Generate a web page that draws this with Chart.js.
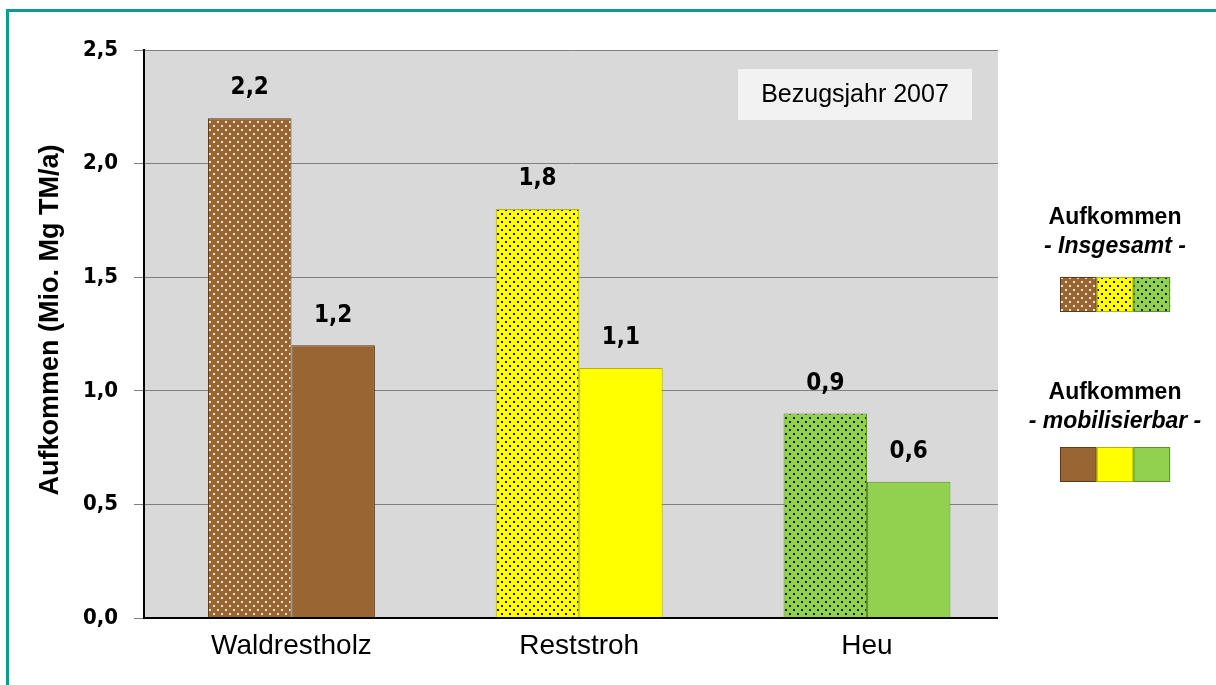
<!DOCTYPE html>
<html>
<head>
<meta charset="utf-8">
<script src="https://cdn.jsdelivr.net/npm/chart.js@4.4.0/dist/chart.umd.min.js"></script>
<style>
  html, body { margin: 0; padding: 0; background: #fff; }
  #wrap { width: 1216px; height: 685px; position: relative; }
</style>
</head>
<body>
<div id="wrap"><canvas id="myChart" width="1216" height="685"></canvas></div>
<script>
// data
const categories = ['Waldrestholz', 'Reststroh', 'Heu'];
const insgesamt = [2.2, 1.8, 0.9];
const mobilisierbar = [1.2, 1.1, 0.6];
const yTicks = [0, 0.5, 1.0, 1.5, 2.0, 2.5];
const yTitle = 'Aufkommen (Mio. Mg TM/a)';
const boxText = 'Bezugsjahr 2007';
const legendHead = 'Aufkommen';
const legendSub = ['- Insgesamt -', '- mobilisierbar -'];

// colours
const fills = ['#996633', '#ffff00', '#92d050'];
const borders = ['#5e3b17', '#b5b500', '#5e8f2c'];
const dotCols = ['#f3e3d0', '#1a1a00', '#1a2a0a'];

const numFont = '"DejaVu Sans Condensed", "DejaVu Sans", Verdana, sans-serif';
const txtFont = '"Liberation Sans", Arial, sans-serif';

function makePattern(bg, dot) {
    const c = document.createElement('canvas');
    c.width = 8; c.height = 8;
    const g = c.getContext('2d');
    g.fillStyle = bg;
    g.fillRect(0, 0, 8, 8);
    g.fillStyle = dot;
    g.fillRect(1, 1, 2, 2);
    g.fillRect(5, 5, 2, 2);
    return g.createPattern(c, 'repeat');
}
const patterns = fills.map((f, i) => makePattern(f, dotCols[i]));

const fmt = v => v.toFixed(1).replace('.', ',');

// grey plot area, frame, axis title, year box, legend
const decor = {
    id: 'decor',
    afterLayout(chart) {
        // the category slots run a bit past the grey area on the right, like the original
        const x = chart.scales.x;
        const w = x.right - x.left;
        x.left += w * 0.0042;
        x.right += w * 0.0151;
        x.configure();
    },
    beforeDraw(chart) {
        const {ctx, chartArea: a} = chart;
        ctx.save();
        ctx.fillStyle = '#d9d9d9';
        ctx.fillRect(a.left, a.top, a.right - a.left, a.bottom - a.top);
        ctx.restore();
    },
    afterDraw(chart) {
        const {ctx, chartArea: a} = chart;
        ctx.save();
        // bottom axis line
        ctx.strokeStyle = '#000';
        ctx.lineWidth = 2;
        ctx.beginPath();
        ctx.moveTo(a.left - 1, a.bottom);
        ctx.lineTo(a.right, a.bottom);
        ctx.stroke();

        // teal frame
        ctx.strokeStyle = '#0b9c97';
        ctx.lineWidth = 3;
        ctx.strokeRect(7.5, 10.5, 1240, 700);

        ctx.textAlign = 'center';
        ctx.textBaseline = 'middle';

        // y axis title
        ctx.save();
        ctx.translate(51, (a.top + a.bottom) / 2 - 14);
        ctx.rotate(-Math.PI / 2);
        ctx.fillStyle = '#000';
        ctx.font = 'bold 27px ' + txtFont;
        ctx.fillText(yTitle, 0, 0);
        ctx.restore();

        // year box
        ctx.fillStyle = '#f2f2f2';
        ctx.fillRect(738, 69, 234, 51);
        ctx.fillStyle = '#000';
        ctx.font = '25px ' + txtFont;
        ctx.fillText(boxText, 855, 95);

        // legend
        const groups = [
            {y: 218, sub: legendSub[0], sw: 277, ds: 0},
            {y: 393, sub: legendSub[1], sw: 447, ds: 1}
        ];
        groups.forEach(gr => {
            ctx.fillStyle = '#000';
            ctx.font = 'bold 23px ' + txtFont;
            ctx.fillText(legendHead, 1115, gr.y);
            ctx.font = 'italic bold 23px ' + txtFont;
            ctx.fillText(gr.sub, 1115, gr.y + 29);
            const dset = chart.data.datasets[gr.ds];
            for (let i = 0; i < 3; i++) {
                const x = 1060 + i * 36.7;
                ctx.fillStyle = dset.backgroundColor[i];
                ctx.fillRect(x, gr.sw, 36.7, 35);
                ctx.strokeStyle = dset.borderColor[i];
                ctx.lineWidth = 1;
                ctx.strokeRect(x + 0.5, gr.sw + 0.5, 35.7, 34);
            }
        });
        ctx.restore();
    },
    afterDatasetsDraw(chart) {
        const {ctx} = chart;
        ctx.save();
        ctx.fillStyle = '#000';
        ctx.font = 'bold 24px ' + numFont;
        ctx.textAlign = 'center';
        ctx.textBaseline = 'middle';
        chart.data.datasets.forEach((ds, di) => {
            chart.getDatasetMeta(di).data.forEach((bar, i) => {
                ctx.fillText(fmt(ds.data[i]), bar.x, bar.y - 30);
            });
        });
        ctx.restore();
    }
};

const ctx = document.getElementById('myChart');
const myChart = new Chart(ctx, {
    type: 'bar',
    data: {
        labels: categories,
        datasets: [{
            label: 'Insgesamt',
            data: insgesamt,
            backgroundColor: patterns,
            borderColor: borders,
            borderWidth: 1
        }, {
            label: 'mobilisierbar',
            data: mobilisierbar,
            backgroundColor: fills,
            borderColor: borders,
            borderWidth: 1
        }]
    },
    plugins: [decor],
    options: {
        responsive: false,
        animation: false,
        layout: { padding: { left: 0, top: 50, right: 218, bottom: 0 } },
        plugins: {
            legend: { display: false },
            tooltip: { enabled: false }
        },
        datasets: {
            bar: { categoryPercentage: 0.58, barPercentage: 1.0 }
        },
        scales: {
            x: {
                afterFit: s => { s.height = 67; },
                grid: { display: false, drawTicks: false },
                border: { display: false },
                ticks: {
                    color: '#000',
                    padding: 11,
                    font: { family: txtFont, size: 28 }
                }
            },
            y: {
                min: 0,
                max: 2.5,
                afterFit: s => { s.width = 144; },
                afterBuildTicks: s => { s.ticks = yTicks.map(v => ({value: v})); },
                grid: { color: '#808080', lineWidth: 1, tickLength: 10 },
                border: { color: '#000', width: 2 },
                ticks: {
                    color: '#000',
                    padding: 16,
                    callback: v => fmt(v),
                    font: { family: numFont, size: 22, weight: 'bold' }
                }
            }
        }
    }
});
</script>
</body>
</html>
